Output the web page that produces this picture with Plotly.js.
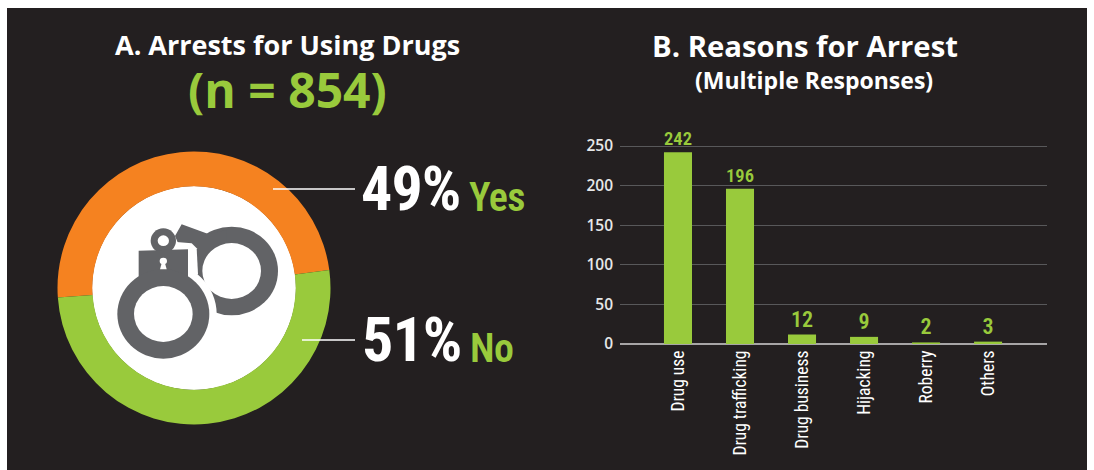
<!DOCTYPE html>
<html><head><meta charset="utf-8">
<script src="https://cdn.plot.ly/plotly-3.0.1.min.js"></script>
<style>html,body{margin:0;padding:0;background:#fff}#c{width:1094px;height:470px}
svg text[style*="Roboto"]{font-stretch:75%}
svg .annotation-text[style*="Roboto"]{letter-spacing:-0.015em}</style>
</head><body><div id="c"></div>
<script>
const shareLabels = ["Yes", "No"];
const shareValues = [49, 51];
const shareColors = ["#f58220", "#99ca3c"];
const categories = ["Drug use", "Drug trafficking", "Drug business", "Hijacking", "Roberry", "Others"];
const counts = [242, 196, 12, 9, 2, 3];
const yTicks = [0, 50, 100, 150, 200, 250];
const WHITE = "#ffffff", BG = "#231f20", GREEN = "#99ca3c", GREY = "#626366";
const NARROW = "Roboto,sans-serif";
const SANS = "'Open Sans',sans-serif";
const W = 1094, H = 470;
const px = x => x / W, py = y => 1 - y / H;
const ellipse = (cx, cy, rx, ry, fill, layer) => ({type:"circle", xref:"paper", yref:"paper", layer:layer||"above",
  x0:px(cx-rx), x1:px(cx+rx), y0:py(cy+ry), y1:py(cy-ry), fillcolor:fill, line:{width:0}});
const poly = (pts, fill) => ({type:"path", xref:"paper", yref:"paper", layer:"above",
  path:"M"+pts.map(p=>px(p[0])+","+py(p[1])).join("L")+"Z", fillcolor:fill, line:{width:0}});
const ix = x => 40 + x/3, iy = y => 130 + y/3;
const iEll = (x,y,rx,ry,f) => ellipse(ix(x),iy(y),rx/3,ry/3,f);
const iPoly = (pts,f) => poly(pts.map(p=>[ix(p[0]),iy(p[1])]),f);
const icon = [
  iEll(575,423,139,133,GREY),
  iPoly([[405,318],[425,283],[505,312],[560,300],[560,420],[487,445],[440,400]],GREY),
  iEll(575,423,88,84,WHITE),
  iEll(370,552,160,155,WHITE),
  iPoly([[400,335],[455,340],[470,355],[474,432],[440,460],[280,460],[280,340]],WHITE),
  iEll(370,332,38,37,GREY),
  iEll(370,332,17,16,WHITE),
  iPoly([[296,362],[444,358],[444,445],[296,445]],GREY),
  iEll(370,552,138,134,GREY),
  iEll(370,552,88,84,WHITE),
  iEll(370,393,11,10,WHITE),
  iPoly([[366,396],[374,396],[380,418],[360,418]],WHITE)
];
const leader = (x0,x1,y) => ({type:"line", xref:"paper", yref:"paper", layer:"above",
  x0:px(x0), x1:px(x1), y0:py(y), y1:py(y), line:{color:WHITE,width:1.5}});
const note = (text,x,y,size,color,family,weight,anchor) => ({text, xref:"paper", yref:"paper", x:px(x), y:py(y),
  xanchor:anchor||"center", yanchor:"middle", showarrow:false, font:{size,color,family,weight}});

const data = [
 {type:"pie", labels:shareLabels, values:shareValues, marker:{colors:shareColors, line:{width:0}},
  sort:false, direction:"clockwise", rotation:266, hole:0.745, textinfo:"none", hoverinfo:"label+percent", showlegend:false,
  domain:{x:[px(194-136.5),px(194+136.5)], y:[py(288+136.5),py(288-136.5)]}},
 {type:"bar", x:categories, y:counts, marker:{color:GREEN, line:{width:0}}, text:counts.map(String), textposition:"outside",
  textfont:{family:NARROW,size:22,color:GREEN,weight:600}, cliponaxis:false, showlegend:false, hoverinfo:"x+y"}
];
const layout = {
  width:W, height:H, margin:{l:0,r:0,t:0,b:0}, paper_bgcolor:WHITE, plot_bgcolor:"rgba(0,0,0,0)",
  bargap:0.548, showlegend:false,
  xaxis:{domain:[px(620),px(1047)], anchor:"y", type:"category", range:[-0.935,5.95], tickangle:-90, showgrid:false,
    ticks:"", showline:false, zeroline:false, tickfont:{family:NARROW,size:17.5,color:WHITE,weight:400}, automargin:false, ticklabelstandoff:2},
  yaxis:{domain:[py(344),py(145)], anchor:"x", range:[0,251.3], tickvals:yTicks, ticktext:yTicks.map(String), gridcolor:"#58585a", gridwidth:1,
    zeroline:true, zerolinecolor:"#a7a5a6", zerolinewidth:2, showline:false, ticks:"", tickfont:{family:SANS,size:15.5,color:"#e6e7e8",weight:600}, automargin:false, ticklabelstandoff:6},
  shapes:[
    {type:"rect", xref:"paper", yref:"paper", layer:"below", x0:px(7), x1:px(1087), y0:0, y1:py(8), fillcolor:BG, line:{width:0}},
    ellipse(194,288,102,102,WHITE,"below"),
    ...icon,
    leader(273,355,189), leader(302,355,340)
  ],
  annotations:[
    note("A. Arrests for Using Drugs",287,45,27,WHITE,SANS,700),
    note("(n = 854)",287,90,48,GREEN,SANS,700),
    note("B. Reasons for Arrest",805,46,29.3,WHITE,SANS,700),
    note("(Multiple Responses)",814,80,23,WHITE,SANS,700),
    note("49%",359,188,62,WHITE,NARROW,700,"left"),
    note("Yes",467,197,40,GREEN,NARROW,600,"left"),
    note("51%",360,339,62,WHITE,NARROW,700,"left"),
    note("No",468,348,40,GREEN,NARROW,600,"left")
  ]
};
Plotly.newPlot("c", data, layout, {displayModeBar:false, staticPlot:true});
</script></body></html>
